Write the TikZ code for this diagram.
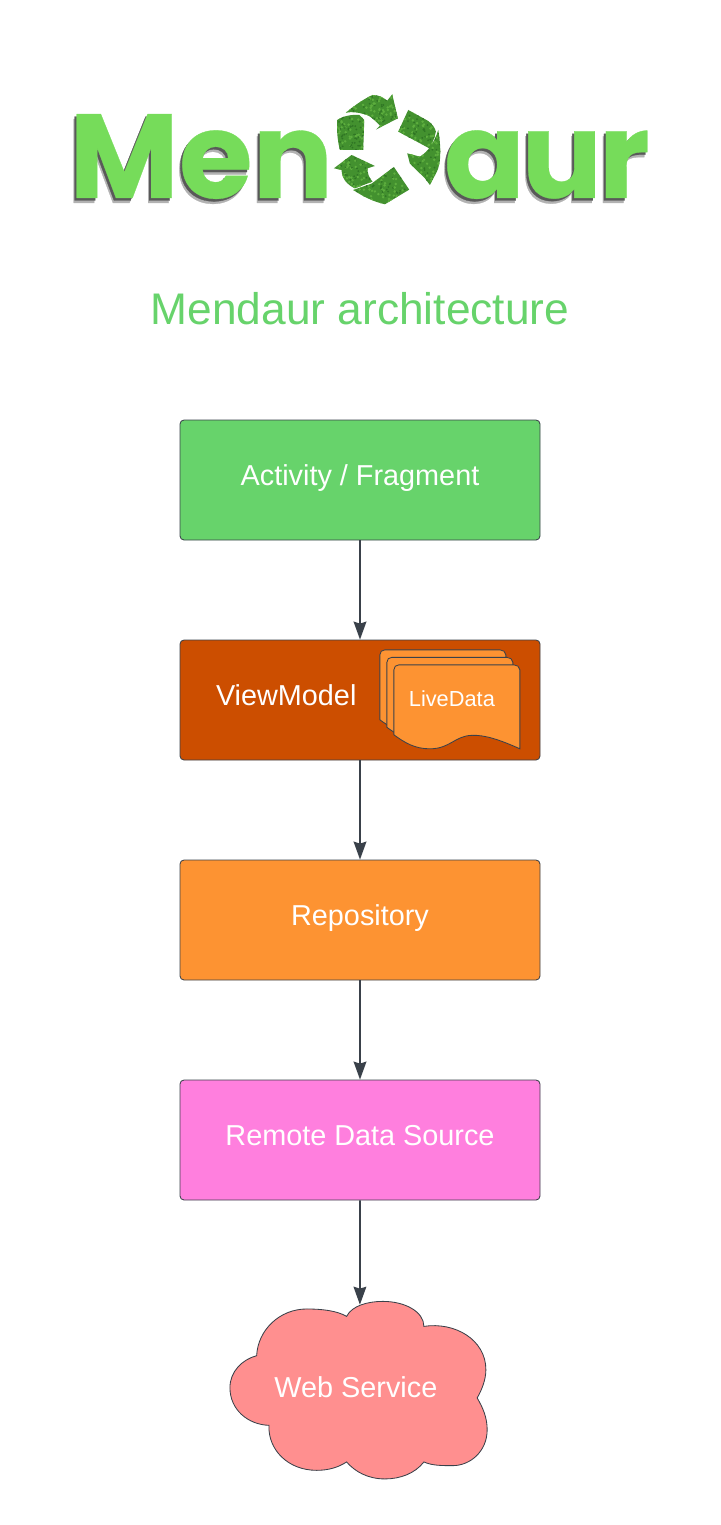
\documentclass[tikz,border=0pt]{standalone}
\usepackage{xcolor}
\usepackage{fontspec}
\setmainfont{Liberation Sans}
\newfontfamily\logofont[FakeBold=0.25]{Poppins}
\usetikzlibrary{arrows.meta,positioning,calc}
\definecolor{linegray}{HTML}{3A414A}
\definecolor{titlegreen}{HTML}{67D36B}
\definecolor{logogreen}{HTML}{76DC5A}
\definecolor{leafgreen}{HTML}{43912F}
\definecolor{leaflight}{HTML}{5DAE3E}
\definecolor{leafdark}{HTML}{2F7524}
\definecolor{vmorange}{HTML}{CC4E00}
\definecolor{repoorange}{HTML}{FD9332}
\definecolor{remotepink}{HTML}{FF7FDE}
\definecolor{cloudred}{HTML}{FF8F8F}
\newcommand{\recyclepath}{
	(48,83) .. controls (75,60) and (105,40) .. (128,30) .. controls (148,30) and (160,38) .. (172,47) -- (187,28) -- (204,100) -- (138,134) -- (150,122) .. controls (135,105) and (115,88) .. (100,87) .. controls (85,82) and (65,80) .. (48,83) -- cycle
	(22,105) .. controls (40,92) and (70,88) .. (88,90) -- (103,105) -- (100,195) -- (30,195) .. controls (22,165) and (20,130) .. (22,105) -- cycle
	(235,75) -- (295,108) .. controls (308,118) and (315,128) .. (318,140) .. controls (314,158) and (308,175) .. (298,190) -- (205,140) -- cycle
	(325,135) .. controls (333,180) and (335,235) .. (320,262) -- (300,300) -- (285,280) -- (240,236) -- (232,205) -- (270,215) .. controls (295,200) and (315,170) .. (325,135) -- cycle
	(12,250) -- (65,210) -- (135,243) -- (113,250) .. controls (112,265) and (118,280) .. (128,290) -- (75,310) .. controls (52,300) and (35,280) .. (35,255) -- cycle
	(70,315) -- (125,296) -- (192,246) -- (238,314) -- (165,358) .. controls (130,350) and (100,335) .. (70,315) -- cycle
}
\begin{document}
\begin{tikzpicture}[
	myarrow/.style={-{Stealth[length=0.45cm,width=0.32cm,inset=0.05cm]},line width=1.2pt,linegray},
	mybox/.style={draw=linegray,line width=0.6pt,rounded corners=0.1cm,minimum width=9cm,minimum height=3cm,text=white,font=\fontsize{20.5}{24}\selectfont,inner sep=0pt,text height=0.625cm,text depth=0.375cm,align=center},
	mydoc/.style={draw=linegray,line width=0.6pt,fill=repoorange}]
	\useasboundingbox (0,0) rectangle (18,-38.125);
	\draw
		(9,-7.72) node[text=titlegreen,font=\fontsize{31.5}{36}\selectfont](title){Mendaur architecture}
		(9,-12) node[mybox,fill=titlegreen](activity){Activity / Fragment}
		(9,-17.5) node[mybox,fill=vmorange,text width=7.2cm,inner xsep=0.9cm,align=left](viewmodel){ViewModel}
		(9,-23) node[mybox,fill=repoorange](repo){Repository}
		(9,-28.5) node[mybox,fill=remotepink](remote){Remote Data Source};
	\begin{scope}[x=0.025cm,y=-0.025cm]
		% logo
		\foreach \dx/\dy/\shade in {-3/5/black!30,-2/2.5/black!65,0/0/logogreen}{
			\node[anchor=base west,inner sep=0pt,text=\shade,font=\logofont\bfseries\fontsize{85}{90}\selectfont] at (69+\dx,198+\dy) {Men};
			\node[anchor=base east,inner sep=0pt,text=\shade,font=\logofont\bfseries\fontsize{85}{90}\selectfont\addfontfeature{LetterSpace=-3}] at (650+\dx,198+\dy) {aur};
		}
		\begin{scope}[shift={(330,85)},x=0.00833cm,y=-0.00833cm]
			\fill[leafgreen] \recyclepath;
			\clip \recyclepath;
			\pgfmathsetseed{7}
			\foreach \i in {1,...,450}{
				\pgfmathsetmacro{\px}{10+rnd*330}
				\pgfmathsetmacro{\py}{25+rnd*335}
				\fill[leaflight] (\px,\py) circle (4);
				\fill[leafdark] (\py,\px) circle (3);
			}
		\end{scope}
		% livedata pages
		\foreach \i/\j in {0/0,7/7.5,14/15}{
			\draw[mydoc,shift={(\i,\j)}] (380,720) -- (380,655) .. controls (380,652) and (382,650) .. (385,650) -- (500,650) .. controls (503,650) and (506,652) .. (506,655) -- (506,734)
				.. controls (486,725) and (471,720) .. (458,720.5) .. controls (441,721) and (436,734) .. (416,734) .. controls (401,734) and (391,728) .. (380,720) -- cycle;
		}
		\node[text=white,font=\fontsize{15.5}{18}\selectfont,inner sep=0pt](livedata) at (452,699){LiveData};
		% cloud
		\draw[draw=linegray,line width=0.6pt,fill=cloudred]
			(346.7,1316.7) .. controls (352,1306) and (368,1301.7) .. (383,1301.7) .. controls (405,1301.7) and (424,1312) .. (424,1326.7)
			.. controls (455,1322) and (486,1340) .. (486,1370) .. controls (486,1380) and (482,1390) .. (477.3,1398.3)
			.. controls (483,1408) and (487.3,1418) .. (487.3,1430) .. controls (487.3,1452) and (470,1466) .. (453,1466) .. controls (442,1466) and (432,1466) .. (424,1462.3)
			.. controls (415,1474) and (400,1479.3) .. (385,1479.3) .. controls (368,1479.3) and (355,1472) .. (346.7,1462.3)
			.. controls (338,1468) and (328,1470.7) .. (316.7,1470.7) .. controls (288,1470.7) and (268,1450) .. (269,1425.7)
			.. controls (248,1425) and (230,1410) .. (230,1388) .. controls (230,1372) and (242,1360) .. (256.7,1356)
			.. controls (258,1330) and (280,1309.3) .. (306.7,1309.3) .. controls (322,1309.3) and (337,1311) .. (346.7,1316.7) -- cycle;
		\node[text=white,font=\fontsize{20.5}{24}\selectfont,inner sep=0pt](web) at (356,1388){Web Service};
		\coordinate (cloudtop) at (360,1305);
	\end{scope}
	\draw[myarrow](activity.south) -- (viewmodel.north);
	\draw[myarrow](viewmodel.south) -- (repo.north);
	\draw[myarrow](repo.south) -- (remote.north);
	\draw[myarrow](remote.south) -- (cloudtop);
\end{tikzpicture}
\end{document}
